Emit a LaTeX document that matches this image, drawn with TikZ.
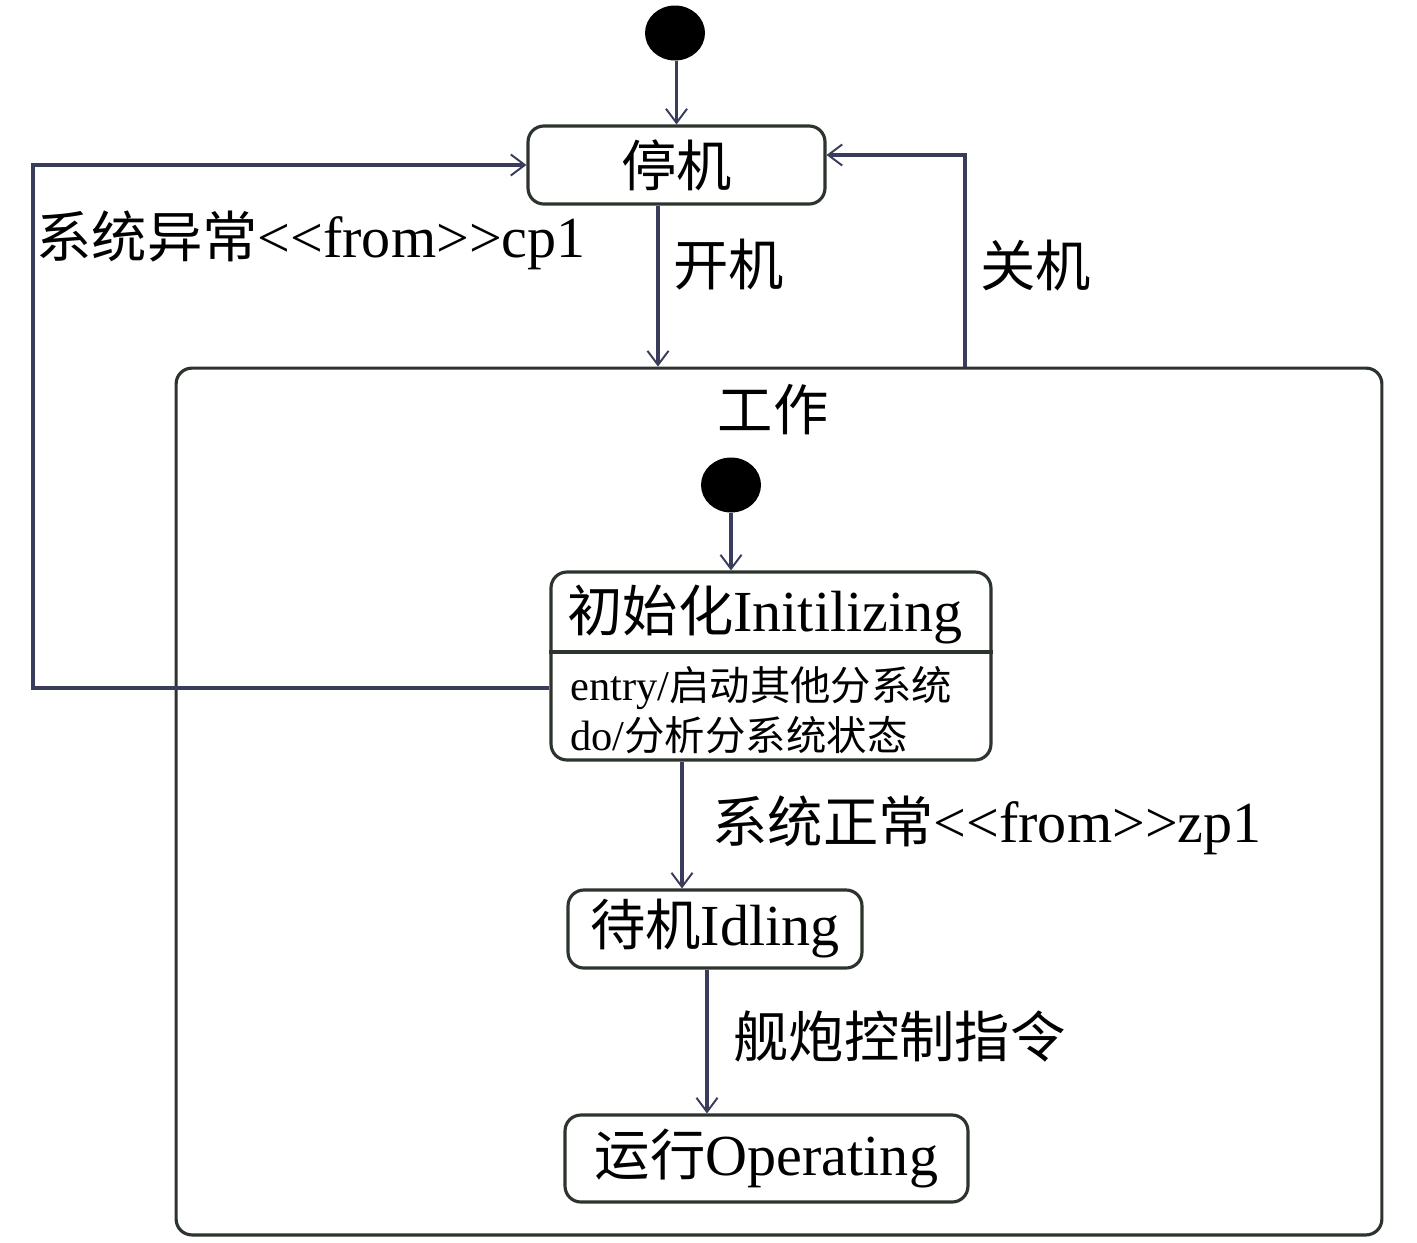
\documentclass[tikz,border=0pt]{standalone}
\usepackage{fontspec}
\setmainfont{Liberation Serif}[Scale=1.05]
\newfontfamily\cjk{Noto Sans CJK SC}
\usetikzlibrary{arrows.meta,shapes.geometric}
\definecolor{wire}{RGB}{58,60,92}
\definecolor{edge}{RGB}{45,52,45}
\tikzset{
  statebox/.style={draw=edge, line width=1.8pt, rounded corners=9pt, inner sep=0pt, font=\fontsize{31.5pt}{36pt}\selectfont},
  initdot/.style={ellipse, fill=black, minimum width=1.2cm, minimum height=1.1cm, inner sep=0pt},
  arr/.style={draw=wire, line width=1.8pt, -{Straight Barb[length=8pt,width=12pt,line width=1.1pt]}},
  txt/.style={inner sep=0pt, anchor=west, font=\fontsize{31.5pt}{36pt}\selectfont},
  small/.style={inner sep=0pt, anchor=west, font=\fontsize{23pt}{27pt}\selectfont},
}
\begin{document}
\begin{tikzpicture}[x=0.02cm, y=-0.02cm]
        \useasboundingbox (0,0) rectangle (1417,1242);
        % outer states
        \node (start) at (675,33)[initdot]{};
        \node (stop) at (676.5,165)[statebox, minimum width=5.94cm, minimum height=1.56cm]{\cjk 停机};
        \node (work) at (779,801.5)[statebox, minimum width=24.12cm, minimum height=17.34cm]{};
        \node (worktitle) at (773,410)[inner sep=0pt, font=\fontsize{31.5pt}{36pt}\selectfont]{\cjk 工作};
        % inner states
        \node (subdot) at (731,485)[initdot]{};
        \node (init) at (771,666)[statebox, minimum width=8.8cm, minimum height=3.76cm]{};
        \node (inittitle) at (567,614)[txt]{{\cjk 初始化}Initilizing};
        \node (entry) at (570,688)[small]{entry/{\cjk 启动其他分系统}};
        \node (doact) at (570,735)[small]{do/{\cjk 分析分系统状态}};
        \node (idle) at (715,929)[statebox, minimum width=5.88cm, minimum height=1.56cm]{{\cjk 待机}Idling};
        \node (oper) at (766.5,1158.5)[statebox, minimum width=8.06cm, minimum height=1.74cm]{{\cjk 运行}Operating};
        \coordinate (divy) at (0,652);
        \draw[draw=edge, line width=1.8pt] (init.west |- divy) -- (init.east |- divy);

        % transitions
        \coordinate (onx) at (658,0);
        \coordinate (offx) at (965,0);
        \coordinate (offy) at (0,155);
        \coordinate (faily) at (0,688);
        \coordinate (failx) at (33,0);
        \coordinate (okx) at (682,0);
        \coordinate (cmdx) at (707,0);
        \draw[arr] (start.south -| stop.north) -- (stop.north);
        \draw[arr] (stop.south -| onx) -- (work.north -| onx);
        \draw[arr] (work.north -| offx) |- (stop.east |- offy);
        \draw[arr] (init.west |- faily) -| (stop.west -| failx) -- (stop.west);
        \draw[arr] (subdot) -- (subdot |- init.north);
        \draw[arr] (init.south -| okx) -- (idle.north -| okx);
        \draw[arr] (idle.south -| cmdx) -- (oper.north -| cmdx);

        % labels
        \node (faillbl) at (36,240)[txt]{{\cjk 系统异常}<{}<from>{}>cp1};
        \node (onlbl) at (673,265)[txt]{\cjk 开机};
        \node (offlbl) at (980,265)[txt]{\cjk 关机};
        \node (oklbl) at (712,825)[txt]{{\cjk 系统正常}<{}<from>{}>zp1};
        \node (cmdlbl) at (733,1036)[txt]{\cjk 舰炮控制指令};
    \end{tikzpicture}
\end{document}
